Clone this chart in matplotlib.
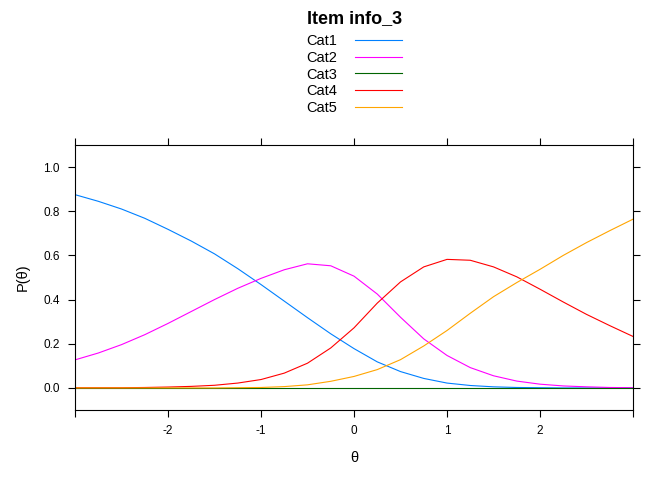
import matplotlib
matplotlib.use('Agg')
import matplotlib.pyplot as plt
import numpy as np

plt.rcParams['font.family'] = ['Liberation Sans', 'DejaVu Sans']

theta = np.arange(-3, 3.01, 0.25)
cat1 = [0.875, 0.845, 0.81, 0.768, 0.718, 0.665, 0.607, 0.54, 0.468, 0.393, 0.318,
        0.245, 0.178, 0.118, 0.074, 0.043, 0.022, 0.011, 0.005, 0.002, 0.001, 0, 0, 0, 0]
cat2 = [0.127, 0.158, 0.196, 0.241, 0.292, 0.346, 0.40, 0.451, 0.496, 0.535, 0.562,
        0.553, 0.506, 0.425, 0.32, 0.222, 0.147, 0.092, 0.055, 0.031, 0.017, 0.009,
        0.005, 0.002, 0.001]
cat3 = [0.0] * 25
cat4 = [0.001, 0.001, 0.001, 0.002, 0.004, 0.007, 0.012, 0.022, 0.038, 0.067, 0.112,
        0.181, 0.272, 0.384, 0.48, 0.548, 0.582, 0.578, 0.548, 0.503, 0.447, 0.389,
        0.333, 0.282, 0.233]
cat5 = [0, 0, 0, 0, 0, 0, 0, 0.001, 0.002, 0.006, 0.014, 0.03, 0.052, 0.083, 0.128,
        0.19, 0.26, 0.338, 0.413, 0.477, 0.537, 0.60, 0.658, 0.712, 0.764]
names = ['Cat1', 'Cat2', 'Cat3', 'Cat4', 'Cat5']
colors = ['#0080ff', '#ff00ff', '#006400', '#ff0000', '#ffa500']

fig = plt.figure(figsize=(6.72, 4.8), dpi=100)
ax = fig.add_axes([0.1116, 0.1458, 0.8304, 0.5522])

for y, n, c in zip([cat1, cat2, cat3, cat4, cat5], names, colors):
    ax.plot(theta, y, color=c, lw=0.8, label=n)

ax.set_xlim(-3, 3)
ax.set_ylim(-0.1, 1.1)
ax.set_xticks([-3, -2, -1, 0, 1, 2, 3])
ax.set_xticklabels(['', '-2', '-1', '0', '1', '2', ''])
ax.set_yticks([0, 0.2, 0.4, 0.6, 0.8, 1.0])
ax.set_yticklabels(['0.0', '0.2', '0.4', '0.6', '0.8', '1.0'])
ax.tick_params(direction='out', length=5, width=0.8, labelsize=8.5,
               top=True, right=True, pad=6)
for s in ax.spines.values():
    s.set_linewidth(0.8)

ax.set_xlabel('θ', fontsize=10.5, labelpad=10)
ax.set_ylabel('P(θ)', fontsize=10.5, labelpad=10)

fig.suptitle('Item info_3', fontsize=13, fontweight='bold', x=0.527, y=0.978)
fig.legend(loc='upper center', bbox_to_anchor=(0.527, 0.945), markerfirst=False,
           frameon=False, handlelength=3.2, labelspacing=0.2, handletextpad=1.2,
           fontsize=10.5, borderpad=0)

fig.savefig('out.png', dpi=100)
